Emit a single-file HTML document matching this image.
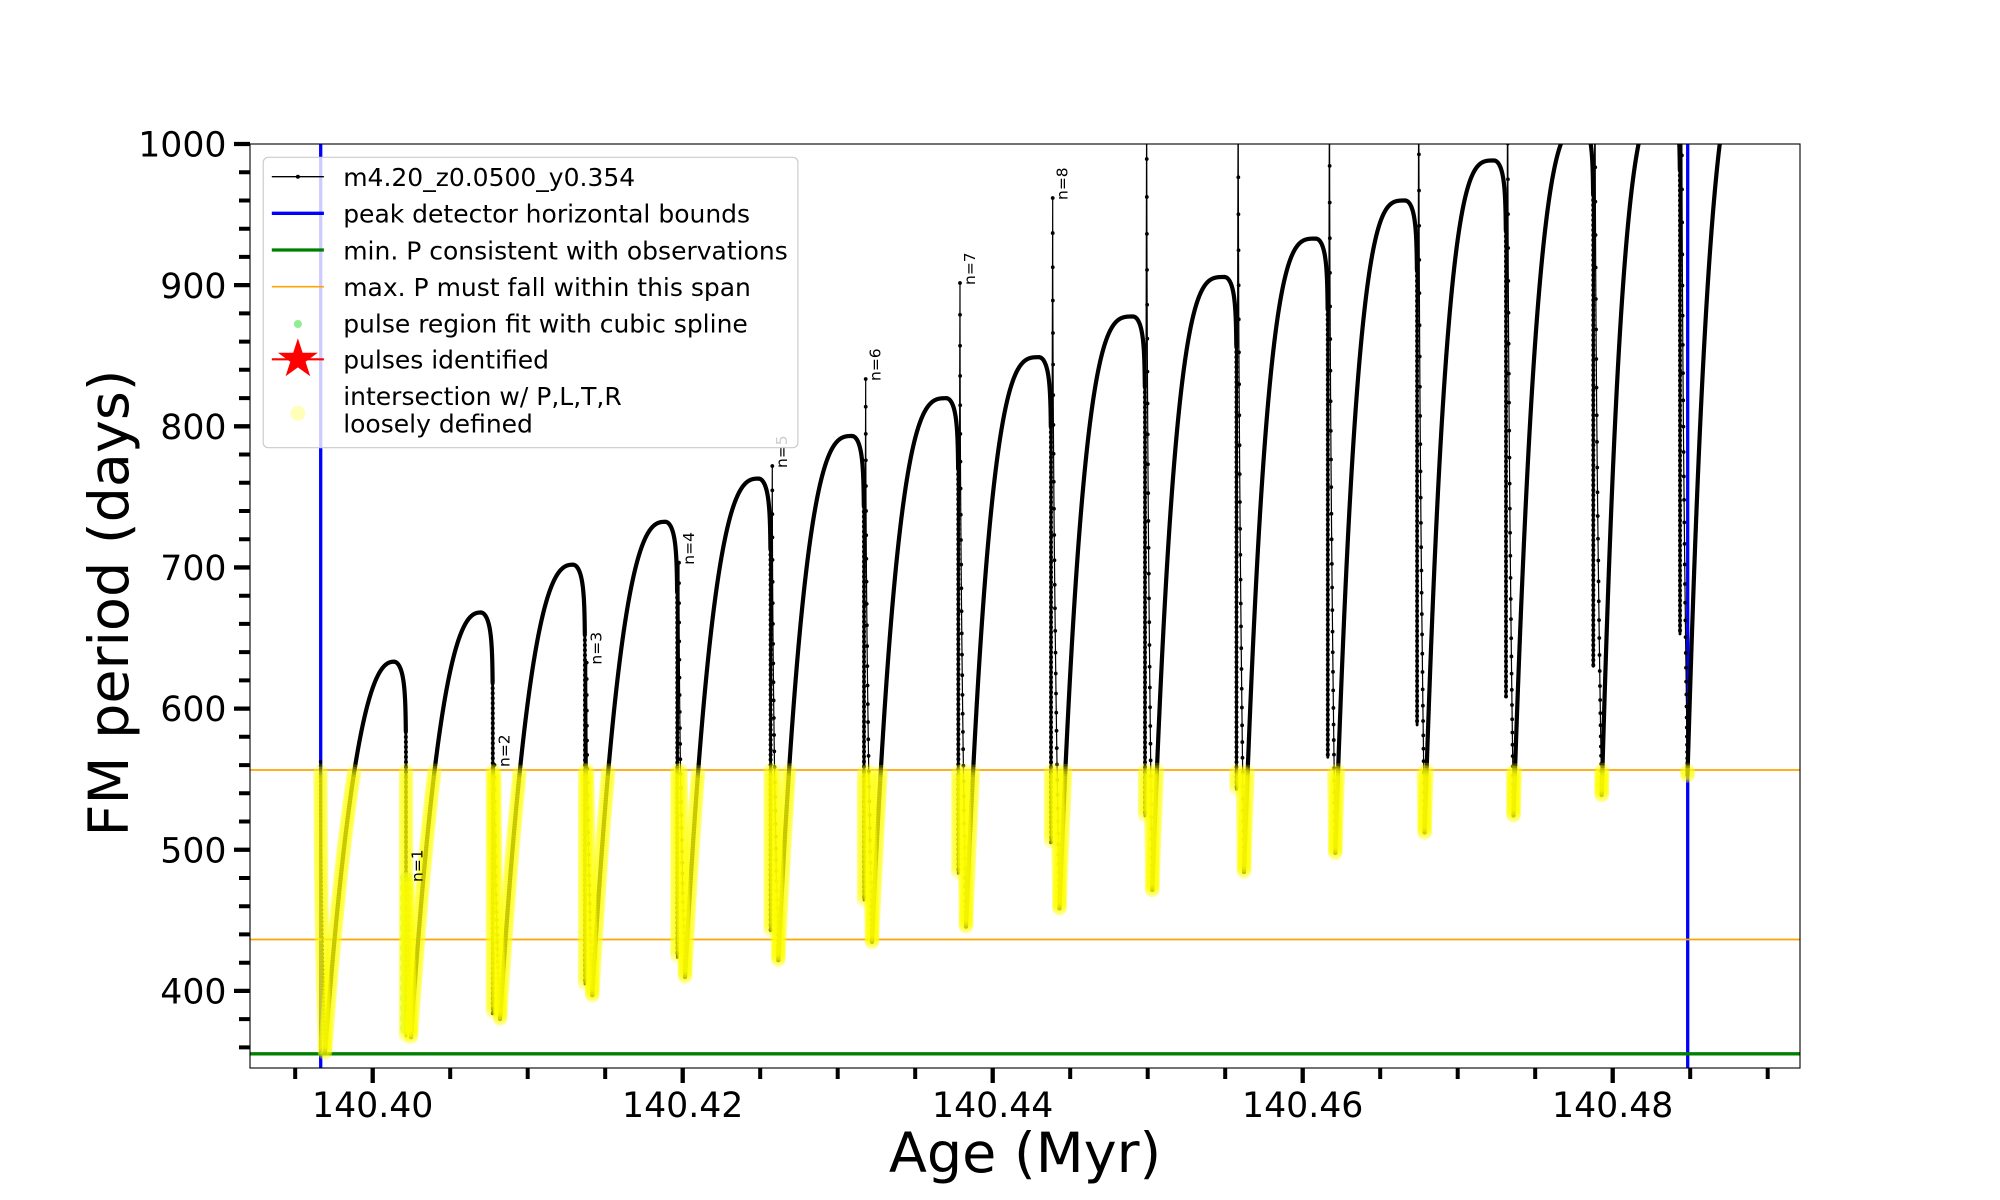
<!DOCTYPE html>
<html><head><meta charset="utf-8">
<style>
html,body{margin:0;padding:0;background:#fff;}
svg{display:block;}
text{font-family:"DejaVu Sans","Liberation Sans",sans-serif;}
</style></head><body>
<svg id="s" xmlns="http://www.w3.org/2000/svg" width="2000" height="1200" viewBox="0 0 2000 1200">
<rect x="0" y="0" width="2000" height="1200" fill="#fff"/>
<defs><clipPath id="ax"><rect x="250" y="144" width="1550" height="924"/></clipPath></defs>
<g clip-path="url(#ax)">
 <line x1="320.7" y1="144" x2="320.7" y2="1068" stroke="#0000ff" stroke-width="3.3"/>
 <line x1="1687.7" y1="144" x2="1687.7" y2="1068" stroke="#0000ff" stroke-width="3.3"/>
 <line x1="250" y1="1053.8" x2="1800" y2="1053.8" stroke="#008000" stroke-width="3.3"/>
 <line x1="250" y1="770" x2="1800" y2="770" stroke="#ffa500" stroke-width="1.7"/>
 <line x1="250" y1="939.5" x2="1800" y2="939.5" stroke="#ffa500" stroke-width="1.7"/>
 <g id="cv" fill="none" stroke="#000" stroke-linejoin="round" stroke-linecap="round"></g>
 <g id="dt" fill="#000"></g>
 <g id="gm" fill="#90ee90" fill-opacity="0.6"></g>
 <g id="yl" fill="#ffff00" fill-opacity="0.24"></g>
 <g font-size="15.5" fill="#000">
  <text transform="translate(422.5,882) rotate(-90)">n=1</text>
  <text transform="translate(509.3,767) rotate(-90)">n=2</text>
  <text transform="translate(601.5,664.6) rotate(-90)">n=3</text>
  <text transform="translate(693.8,564.7) rotate(-90)">n=4</text>
  <text transform="translate(787.1,468) rotate(-90)">n=5</text>
  <text transform="translate(880.5,381) rotate(-90)">n=6</text>
  <text transform="translate(974.8,285) rotate(-90)">n=7</text>
  <text transform="translate(1067.5,200) rotate(-90)">n=8</text>
 </g>
</g>

<!-- legend -->
<g>
 <rect x="263.2" y="157.3" width="534.7" height="290.4" rx="5" ry="5" fill="#fff" fill-opacity="0.8" stroke="#cccccc" stroke-width="1.2"/>
 <line x1="271.8" y1="176.7" x2="323.9" y2="176.7" stroke="#000" stroke-width="1.4"/>
 <circle cx="297.9" cy="176.7" r="2" fill="#000"/>
 <line x1="271.8" y1="213.3" x2="323.9" y2="213.3" stroke="#0000ff" stroke-width="3.3"/>
 <line x1="271.8" y1="250" x2="323.9" y2="250" stroke="#008000" stroke-width="3.3"/>
 <line x1="271.8" y1="286.7" x2="323.9" y2="286.7" stroke="#ffa500" stroke-width="1.7"/>
 <circle cx="297.9" cy="324" r="4" fill="#90ee90"/>
 <line x1="271.8" y1="359.3" x2="323.9" y2="359.3" stroke="#ff0000" stroke-width="2.2"/>
 <polygon points="297.9,338.3 302.61,352.81 317.87,352.81 305.53,361.78 310.24,376.29 297.9,367.32 285.56,376.29 290.27,361.78 277.93,352.81 293.19,352.81" fill="#ff0000"/>
 <circle cx="297.9" cy="413.3" r="7.5" fill="#ffff00" fill-opacity="0.27"/>
 <g font-size="25" fill="#000">
  <text x="343.2" y="186">m4.20_z0.0500_y0.354</text>
  <text x="343.2" y="222.7">peak detector horizontal bounds</text>
  <text x="343.2" y="259.3">min. P consistent with observations</text>
  <text x="343.2" y="296">max. P must fall within this span</text>
  <text x="343.2" y="332.7">pulse region fit with cubic spline</text>
  <text x="343.2" y="368.3">pulses identified</text>
  <text x="343.2" y="405">intersection w/ P,L,T,R</text>
  <text x="343.2" y="432.7">loosely defined</text>
 </g>
</g>

<!-- spines -->
<rect x="250" y="144" width="1550" height="924" fill="none" stroke="#000" stroke-width="1.1"/>

<!-- ticks -->
<path d="M372.7 1068V1083M682.7 1068V1083M992.7 1068V1083M1302.7 1068V1083M1612.7 1068V1083" stroke="#000" stroke-width="4.3"/>
<path d="M295.2 1068V1079M450.2 1068V1079M527.7 1068V1079M605.2 1068V1079M760.2 1068V1079M837.7 1068V1079M915.2 1068V1079M1070.2 1068V1079M1147.7 1068V1079M1225.2 1068V1079M1380.2 1068V1079M1457.7 1068V1079M1535.2 1068V1079M1690.2 1068V1079M1767.7 1068V1079" stroke="#000" stroke-width="4"/>
<path d="M234 144H250M234 285.15H250M234 426.3H250M234 567.45H250M234 708.6H250M234 849.75H250M234 990.9H250" stroke="#000" stroke-width="4.3"/>
<path d="M239 172.2H250M239 200.5H250M239 228.7H250M239 256.9H250M239 313.4H250M239 341.6H250M239 369.8H250M239 398.1H250M239 454.5H250M239 482.8H250M239 511H250M239 539.2H250M239 595.7H250M239 623.9H250M239 652.1H250M239 680.4H250M239 736.8H250M239 765.1H250M239 793.3H250M239 821.5H250M239 878H250M239 906.2H250M239 934.4H250M239 962.7H250M239 1019.1H250M239 1047.4H250" stroke="#000" stroke-width="4"/>

<!-- tick labels -->
<g font-size="34.7" fill="#000" text-anchor="middle">
 <text x="372.7" y="1117">140.40</text>
 <text x="682.7" y="1117">140.42</text>
 <text x="992.7" y="1117">140.44</text>
 <text x="1302.7" y="1117">140.46</text>
 <text x="1612.7" y="1117">140.48</text>
</g>
<g font-size="34.7" fill="#000" text-anchor="end">
 <text x="226.5" y="156.6">1000</text>
 <text x="226.5" y="297.8">900</text>
 <text x="226.5" y="438.9">800</text>
 <text x="226.5" y="580.1">700</text>
 <text x="226.5" y="721.2">600</text>
 <text x="226.5" y="862.4">500</text>
 <text x="226.5" y="1003.5">400</text>
</g>

<!-- axis labels -->
<text x="1025" y="1172" font-size="55.6" text-anchor="middle" fill="#000">Age (Myr)</text>
<text transform="translate(128,603) rotate(-90)" font-size="55.6" text-anchor="middle" fill="#000">FM period (days)</text>
</svg>

<script>
(function(){
var NS="http://www.w3.org/2000/svg";
function el(t,a,p){var e=document.createElementNS(NS,t);for(var k in a)e.setAttribute(k,a[k]);p.appendChild(e);return e;}
function pd(P){var s='';for(var i=0;i<P.length;i++){s+=(i?'L':'M')+P[i][0].toFixed(2)+' '+P[i][1].toFixed(2);}return s;}
function rs(P,s){var o=[P[0]],acc=0;for(var i=1;i<P.length;i++){var x0=P[i-1][0],y0=P[i-1][1],x1=P[i][0],y1=P[i][1];var L=Math.sqrt((x1-x0)*(x1-x0)+(y1-y0)*(y1-y0));if(L===0)continue;var pos=s-acc;while(pos<=L){o.push([x0+(x1-x0)*pos/L,y0+(y1-y0)*pos/L]);pos+=s;}acc=L-(pos-s);}return o;}
var cv=document.getElementById('cv'),dt=document.getElementById('dt'),gm=document.getElementById('gm'),yl=document.getElementById('yl');
var xd=[320.5,406,492.8,585,677.3,770.6,864,958.3,1051,1145,1236.5,1327.8,1417.1,1506,1593.3,1680];
var m1=[761.7,1035.8,1013.4,984,957.4,930.8,900,873.4,842.6,816,789.4,757.2,725,697,666.2,634];
var sp=[0,880,765,662.6,562.7,466,379,283,198,80,60,50,40,30,20,10];
var m2=[1052.6,1037.2,1019,995.2,977,960.2,942,926.6,908.4,890,872,853,832.5,815.5,795,775.4];
var pk=[661.7,612.5,564.7,521.8,478.6,436,398.2,357.2,316.5,277,238.6,200.5,160.5,125,100,45];
var dl=[4.5,5,7.3,7.3,7.7,7.7,8,7.7,8.5,7.3,7.5,7.5,7.5,7.5,8.4,7.5];
var pp=[2.3,2.4,2.5,2.6,2.7,2.85,3.0,3.1,3.2,3.3,3.3,3.3,3.3,3.0,3.4,3.4];
var W=12,CC=20;
var N=16,xpk=[];for(var k=0;k<N;k++)xpk.push(k<N-1?xd[k+1]-W:1760);
var Y=[];
function addY(P){var r=rs(P,2.5);for(var i=0;i<r.length;i++)if(r[i][1]>770)Y.push(r[i]);}
function addDots(P,s,r){if(P.length<2)return;var q=rs(P,s);for(var i=0;i<q.length;i++)el('circle',{cx:q[i][0].toFixed(2),cy:q[i][1].toFixed(2),r:r},dt);}
for(var k=0;k<N;k++){
 var A=[],i,t,pt;
 if(k===0){
  for(i=0;i<=60;i++){t=i/60;A.push([xd[0]+dl[0]*t*t,m1[0]+(m2[0]-m1[0])*t]);}
  el('path',{d:pd(A),'stroke-width':1.2},cv);addDots(A,4,1.7);addY(A);
 } else {
  var ax0=xpk[k-1],ay0=pk[k-1],H=m1[k]-ay0,Ath=[],Av=[];
  var norm=Math.sqrt(1-Math.exp(-H/CC));
  for(i=0;i<=300;i++){t=i/300;var d=H*t*t;pt=[ax0+W*Math.sqrt(1-Math.exp(-d/CC))/norm,ay0+d];A.push(pt);if(d<=70)Ath.push(pt);else Av.push(pt);}
  el('path',{d:pd(A),'stroke-width':2.8},cv);
  if(Ath.length>1)el('path',{d:pd(Ath),'stroke-width':4.2},cv);
  addDots(Av,5,2);addY(A);
  if(k===1){var g=rs(A,10);for(i=0;i<g.length;i++)if(g[i][1]>873)el('circle',{cx:g[i][0].toFixed(2),cy:g[i][1].toFixed(2),r:6},gm);}
  var xs=xd[k]+1.7,ys=sp[k],C=[[xd[k],m1[k]],[xs,ys]],Cd=[];
  for(i=0;i<=40;i++){t=i/40;var f=1-(1-t)*(1-t);pt=[xs+(dl[k]-1.7)*f*f,ys+(m2[k]-ys)*f];C.push(pt);Cd.push(pt);}
  el('path',{d:pd(C),'stroke-width':1.2},cv);
  for(i=0;i<Cd.length;i++)el('circle',{cx:Cd[i][0].toFixed(2),cy:Cd[i][1].toFixed(2),r:1.9},dt);
  addY(Cd);
 }
 var D=[],x0=xd[k]+dl[k],y0=m2[k],x1=xpk[k],y1=pk[k],p=pp[k];
 for(i=0;i<=500;i++){var u=i/500;D.push([x0+(x1-x0)*u,y0+(y1-y0)*(1-Math.pow(1-u,p))]);}
 el('path',{d:pd(D),'stroke-width':4.2},cv);
 addY(D);
}
for(var j=0;j<Y.length;j++)el('circle',{cx:Y[j][0].toFixed(2),cy:Y[j][1].toFixed(2),r:7.3},yl);
})();
</script>
</body></html>
